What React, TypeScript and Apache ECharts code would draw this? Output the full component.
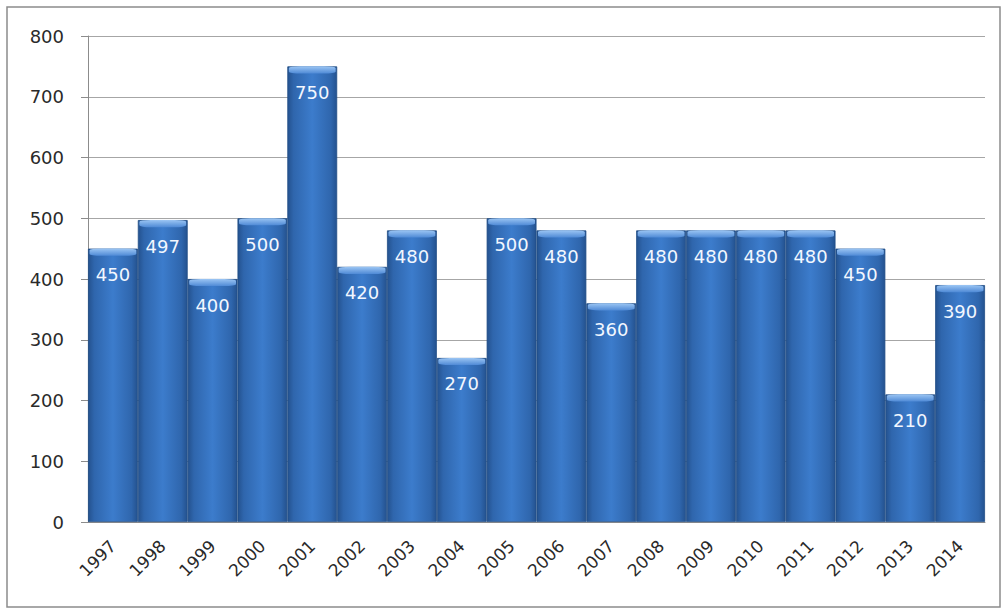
import React, { useEffect, useRef } from "react";
import * as echarts from "echarts";

const years = ["1997","1998","1999","2000","2001","2002","2003","2004","2005","2006","2007","2008","2009","2010","2011","2012","2013","2014"];
const values = [450,497,400,500,750,420,480,270,500,480,360,480,480,480,480,450,210,390];
const yTicks = { min: 0, max: 800, interval: 100 };

const FONT = "'DejaVu Sans', sans-serif";

export default function App() {
  const ref = useRef<HTMLDivElement>(null);
  useEffect(() => {
    if (!ref.current) return;
    const chart = echarts.init(ref.current, null, { renderer: "svg" });
    const barFill = new echarts.graphic.LinearGradient(0, 0, 1, 0, [
      { offset: 0, color: "#24528f" },
      { offset: 0.12, color: "#2f66ad" },
      { offset: 0.5, color: "#3c7ccc" },
      { offset: 0.88, color: "#2f66ad" },
      { offset: 1, color: "#24528f" },
    ]);
    const capFill = new echarts.graphic.LinearGradient(0, 0, 0, 1, [
      { offset: 0, color: "#9cc6f4" },
      { offset: 1, color: "#4f8ad6" },
    ]);
    chart.setOption({
      animation: false,
      backgroundColor: "#ffffff",
      textStyle: { fontFamily: FONT },
      grid: { left: 88, right: 18, top: 36, bottom: 88, containLabel: false },
      xAxis: {
        type: "category",
        data: years,
        axisLine: { show: true, lineStyle: { color: "#8c8c8c" } },
        axisTick: { show: false },
        axisLabel: { rotate: 45, color: "#2a2a2a", fontSize: 17, margin: 21, fontFamily: FONT },
      },
      yAxis: {
        type: "value",
        min: yTicks.min,
        max: yTicks.max,
        interval: yTicks.interval,
        axisLine: { show: true, lineStyle: { color: "#8c8c8c" } },
        axisTick: { show: true, length: 7, lineStyle: { color: "#8c8c8c" } },
        axisLabel: { color: "#2a2a2a", fontSize: 18, margin: 24, fontFamily: FONT },
        splitLine: { lineStyle: { color: "#a6a6a6" } },
      },
      series: [
        {
          type: "bar",
          data: values,
          barCategoryGap: "0%",
          itemStyle: { color: barFill, borderColor: "#1f4c85", borderWidth: 0.8 },
          label: {
            show: true,
            position: "insideTop",
            distance: 17,
            color: "#f2f7ff",
            fontSize: 18,
            fontFamily: FONT,
          },
          z: 2,
        },
        {
          type: "pictorialBar",
          data: values,
          barCategoryGap: "0%",
          symbol: "roundRect",
          symbolSize: ["94%", 7],
          symbolPosition: "end",
          symbolOffset: [0, 0],
          itemStyle: { color: capFill },
          silent: true,
          z: 3,
        },
      ],
      graphic: [
        {
          type: "rect",
          shape: { x: 7, y: 7, width: 993, height: 600 },
          style: { fill: "none", stroke: "#8c8c8c", lineWidth: 1.5 },
          z: 100,
        },
      ],
    });
    return () => chart.dispose();
  }, []);
  return <div ref={ref} style={{ position: "fixed", left: 0, top: 0, width: 1003, height: 610 }} />;
}
